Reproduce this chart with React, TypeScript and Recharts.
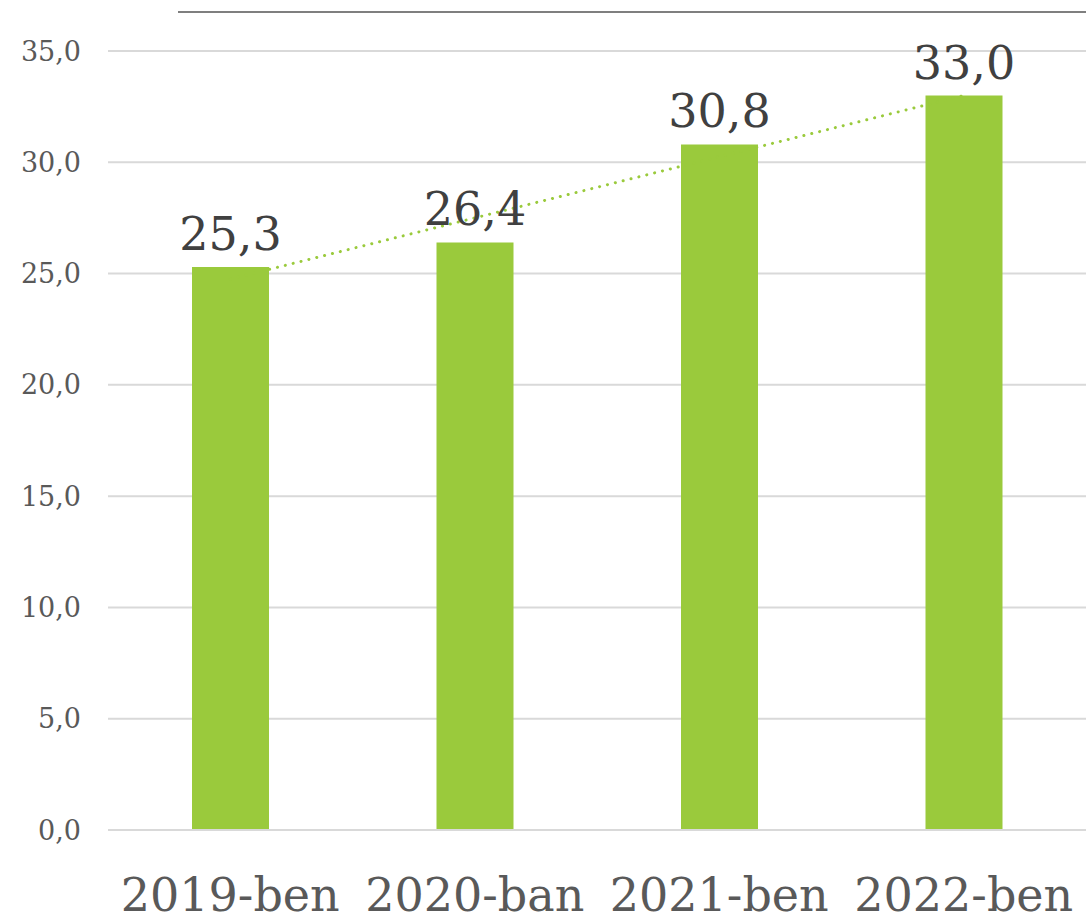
import React from 'react';
import { ComposedChart, Bar, Line, XAxis, YAxis, CartesianGrid, LabelList } from 'recharts';

const categories = ['2019-ben', '2020-ban', '2021-ben', '2022-ben'];
const values = [25.3, 26.4, 30.8, 33.0];
const trendValues = [24.75, 27.5, 30.25, 33.0];
const yTicks = [0, 5, 10, 15, 20, 25, 30, 35];

const data = categories.map((c, i) => ({ name: c, value: values[i], trend: trendValues[i] }));

const fmt = (v: any) => Number(v).toFixed(1).replace('.', ',');
const FONT = '"DejaVu Serif", Georgia, serif';

export default function App() {
  return (
    <div style={{ position: 'absolute', left: 0, top: 0, width: 1086, height: 922, background: '#fff' }}>
      <div style={{ position: 'absolute', left: 178, top: 11, width: 908, height: 0, borderTop: '2px solid #7f7f7f' }} />
      <ComposedChart
        width={1086}
        height={922}
        data={data}
        margin={{ top: 51, right: 0, bottom: 0, left: 0 }}
        style={{ fontFamily: FONT }}
      >
        <CartesianGrid vertical={false} stroke="#d9d9d9" strokeWidth={2} />
        <XAxis
          dataKey="name"
          height={92}
          tickLine={false}
          axisLine={{ stroke: '#d9d9d9', strokeWidth: 2 }}
          tick={{ fill: '#595959', fontSize: 46, fontFamily: FONT }}
          tickMargin={42}
          interval={0}
        />
        <YAxis
          width={108}
          domain={[0, 35]}
          ticks={yTicks}
          tickFormatter={fmt}
          tickLine={false}
          axisLine={false}
          tickMargin={21}
          tick={{ fill: '#595959', fontSize: 27, fontFamily: FONT }}
        />
        <Line
          dataKey="trend"
          stroke="#9ACA3C"
          strokeWidth={3}
          strokeDasharray="0.1 8"
          strokeLinecap="round"
          dot={false}
          activeDot={false}
          isAnimationActive={false}
        />
        <Bar dataKey="value" fill="#9ACA3C" barSize={77} isAnimationActive={false}>
          <LabelList
            dataKey="value"
            position="top"
            offset={17}
            formatter={fmt}
            style={{ fill: '#404040', fontSize: 46, fontFamily: FONT }}
          />
        </Bar>
      </ComposedChart>
    </div>
  );
}
